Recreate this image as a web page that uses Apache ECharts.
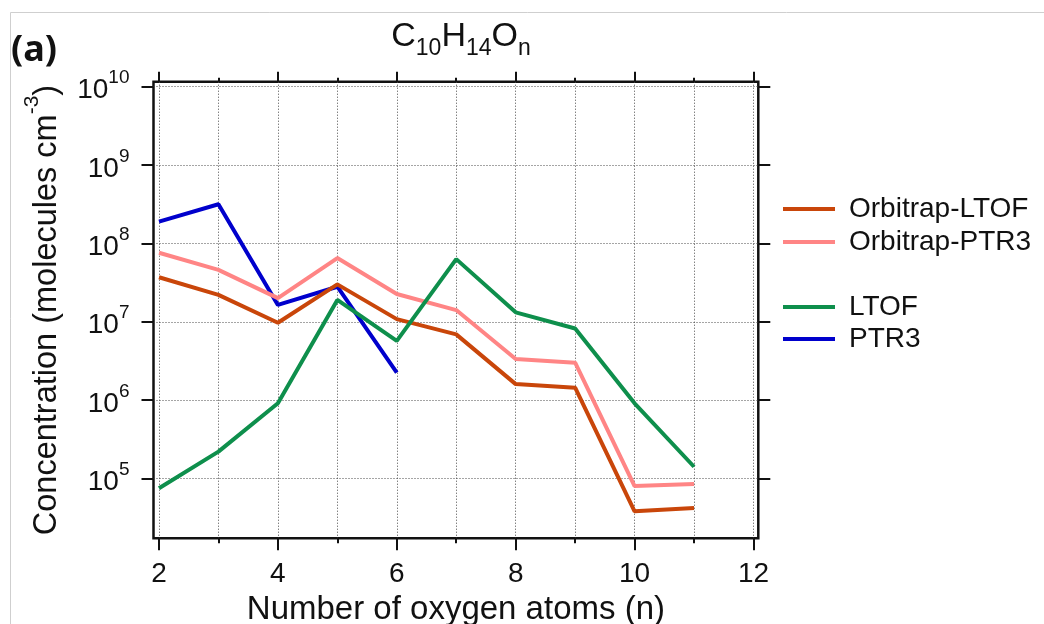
<!DOCTYPE html>
<html>
<head>
<meta charset="utf-8">
<script src="https://cdn.jsdelivr.net/npm/echarts@6/dist/echarts.min.js"></script>
<style>
  html, body { margin: 0; padding: 0; background: #fff; }
  #chart { width: 1044px; height: 624px; }
</style>
</head>
<body>
<div id="chart"></div>
<script>
// Number of oxygen atoms n in C10H14On
const oxygenNumbers = [2, 3, 4, 5, 6, 7, 8, 9, 10, 11];
// Concentrations (molecules cm^-3)
const orbitrapLtof = [3.7e7, 2.2e7, 9.7e6, 3.0e7, 1.08e7, 6.9e6, 1.6e6, 1.44e6, 3.8e4, 4.2e4];
const orbitrapPtr3 = [7.6e7, 4.6e7, 2.0e7, 6.5e7, 2.26e7, 1.41e7, 3.35e6, 3.0e6, 8.0e4, 8.5e4];
const ltof = [7.5e4, 2.2e5, 9.1e5, 1.9e7, 5.7e6, 6.3e7, 1.32e7, 8.2e6, 9.1e5, 1.41e5];
const ptr3Numbers = [2, 3, 4, 5, 6];
const ptr3 = [1.9e8, 3.16e8, 1.64e7, 2.8e7, 2.24e6];

// Axis ticks
const yDecades = [1e5, 1e6, 1e7, 1e8, 1e9, 1e10];
const xMajorTicks = [2, 4, 6, 8, 10, 12];
const xMinorTicks = [3, 5, 7, 9, 11];

const FONT = '"Liberation Sans", Arial, sans-serif';
const pairs = (xs, ys) => xs.map((x, i) => [x, ys[i]]);

const yMin = Math.pow(10, 4.236);
const yMax = Math.pow(10, 10.064);
const xMin = 1.9075;
const xMax = 12.081;

const dotted = { show: true, lineStyle: { color: '#4a4a4a', type: [1, 2], width: 1 } };

const chart = echarts.init(document.getElementById('chart'), null, { renderer: 'canvas' });

function xAxisDef(position, ticks, len, withLabels, withSplit) {
  return {
    type: 'value', gridIndex: 0, position: position, min: xMin, max: xMax,
    axisLine: { show: false },
    axisTick: { show: true, customValues: ticks, length: len, inside: false,
      lineStyle: { color: '#111', width: 2 } },
    axisLabel: withLabels ? { show: true, customValues: ticks, margin: 22,
      fontFamily: FONT, fontSize: 28, color: '#111' } : { show: false },
    splitLine: withSplit ? dotted : { show: false }
  };
}

function yAxisDef(position, withLabels, withSplit) {
  return {
    type: 'log', logBase: 10, gridIndex: 0, position: position, min: yMin, max: yMax,
    axisLine: { show: false },
    axisTick: { show: true, customValues: yDecades, length: 12, inside: false,
      lineStyle: { color: '#111', width: 2 } },
    axisLabel: withLabels ? {
      show: true, customValues: yDecades, margin: 24,
      formatter: v => '{b|10}{e|' + Math.round(Math.log10(v)) + '}',
      rich: {
        b: { fontFamily: FONT, fontSize: 28, color: '#111', lineHeight: 36, verticalAlign: 'bottom' },
        e: { fontFamily: FONT, fontSize: 19, color: '#111', lineHeight: 19, verticalAlign: 'top' }
      }
    } : { show: false },
    splitLine: withSplit ? dotted : { show: false },
    minorTick: { show: false }
  };
}

const lineSeries = (name, data, color) => ({
  name: name, type: 'line', data: data, xAxisIndex: 0, yAxisIndex: 0,
  showSymbol: false, symbol: 'none', animation: false,
  lineStyle: { color: color, width: 4 }, itemStyle: { color: color }
});

const legendText = { fontFamily: FONT, fontSize: 28, color: '#111', padding: [0, 0, 0, 9] };

chart.setOption({
  backgroundColor: '#fff',
  animation: false,
  title: [
    {
      text: '{m|C}{s|10}{m|H}{s|14}{m|O}{s|n}',
      left: 456, top: 15, textAlign: 'center',
      textStyle: {
        fontWeight: 'normal',
        rich: {
          m: { fontFamily: FONT, fontSize: 34, fontWeight: 'normal', color: '#111', lineHeight: 40, verticalAlign: 'top' },
          s: { fontFamily: FONT, fontSize: 23, fontWeight: 'normal', color: '#111', lineHeight: 23, verticalAlign: 'bottom' }
        }
      }
    },
    {
      text: '(a)', left: 6, top: 28,
      textStyle: { fontFamily: '"Noto Sans", sans-serif', fontSize: 36, fontWeight: 'bold', color: '#111' }
    }
  ],
  graphic: [{
    type: 'rect', silent: true,
    shape: { x: 10.5, y: 12.5, width: 1100, height: 700 },
    style: { fill: 'none', stroke: '#cfcfcf', lineWidth: 1 }
  }],
  grid: {
    left: 153.5, right: 285.7, top: 81.7, bottom: 85.7,
    outerBoundsMode: 'none', containLabel: false,
    show: true, borderColor: '#111', borderWidth: 2.5, backgroundColor: 'transparent'
  },
  legend: [
    {
      data: ['Orbitrap-LTOF', 'Orbitrap-PTR3'], orient: 'vertical', padding: 0,
      left: 783, top: 195, itemGap: 5, itemWidth: 52, itemHeight: 4, icon: 'rect',
      textStyle: legendText, selectedMode: false
    },
    {
      data: ['LTOF', 'PTR3'], orient: 'vertical', padding: 0,
      left: 783, top: 293, itemGap: 4, itemWidth: 52, itemHeight: 4, icon: 'rect',
      textStyle: legendText, selectedMode: false
    }
  ],
  xAxis: [
    Object.assign(xAxisDef('bottom', xMajorTicks, 12, true, true), {
      name: 'Number of oxygen atoms (n)', nameLocation: 'middle', nameGap: 54,
      nameTextStyle: { fontFamily: FONT, fontSize: 33, color: '#111' }
    }),
    xAxisDef('bottom', xMinorTicks, 5, false, true),
    xAxisDef('top', xMajorTicks, 10, false, false),
    xAxisDef('top', xMinorTicks, 4, false, false)
  ],
  yAxis: [
    Object.assign(yAxisDef('left', true, true), {
      name: '{m|Concentration (molecules cm}{s|-3}{m|)}',
      nameLocation: 'middle', nameGap: 90, nameRotate: 90,
      nameTextStyle: {
        rich: {
          m: { fontFamily: FONT, fontSize: 32.5, color: '#111', lineHeight: 42, verticalAlign: 'bottom' },
          s: { fontFamily: FONT, fontSize: 21, color: '#111', lineHeight: 21, verticalAlign: 'top' }
        }
      }
    }),
    yAxisDef('right', false, false)
  ],
  series: [
    lineSeries('PTR3', pairs(ptr3Numbers, ptr3), '#0000CC'),
    lineSeries('Orbitrap-PTR3', pairs(oxygenNumbers, orbitrapPtr3), '#FF8585'),
    lineSeries('Orbitrap-LTOF', pairs(oxygenNumbers, orbitrapLtof), '#C9460A'),
    lineSeries('LTOF', pairs(oxygenNumbers, ltof), '#0E8F4C')
  ]
});
</script>
</body>
</html>
